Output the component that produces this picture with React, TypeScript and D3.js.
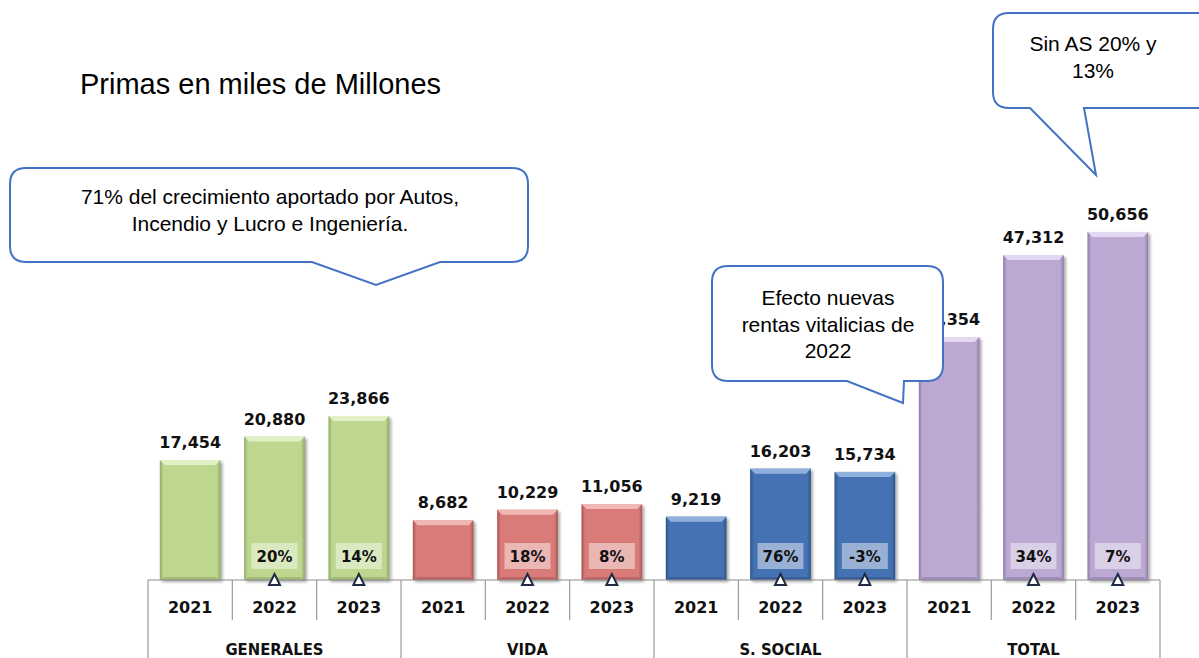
import React from "react";
import * as d3 from "d3";

const groups = ["GENERALES", "VIDA", "S. SOCIAL", "TOTAL"];
const years = ["2021", "2022", "2023"];
const generales = [17454, 20880, 23866];
const vida = [8682, 10229, 11056];
const social = [9219, 16203, 15734];
const total = [35354, 47312, 50656];
const growthGenerales = ["", "20%", "14%"];
const growthVida = ["", "18%", "8%"];
const growthSocial = ["", "76%", "-3%"];
const growthTotal = ["", "34%", "7%"];
const groupColors = ["#BDD78E", "#D97C79", "#4472B2", "#BBA8D3"];
const groupDark = ["#8FA965", "#A85552", "#2D5288", "#8E7BA8"];
const groupLight = ["#E2F0C6", "#F0B8B5", "#8FB0DD", "#E3D8F2"];

const title = "Primas en miles de Millones";
const callout1 = ["71% del crecimiento aportado por Autos,", "Incendio y Lucro e Ingeniería."];
const callout2 = ["Efecto nuevas", "rentas vitalicias de", "2022"];
const callout3 = ["Sin AS 20% y", "13%"];

const W = 1199;
const H = 658;

export default function App() {
  const series = [generales, vida, social, total];
  const growth = [growthGenerales, growthVida, growthSocial, growthTotal];
  const rows = groups.flatMap((g, gi) =>
    years.map((y, yi) => ({
      key: g + "|" + y,
      group: g,
      gi,
      year: y,
      value: series[gi][yi],
      growth: growth[gi][yi],
    }))
  );

  const x = d3
    .scaleBand<string>()
    .domain(rows.map((r) => r.key))
    .range([148, 1160])
    .paddingInner(0.28)
    .paddingOuter(0.14);
  const yScale = d3.scaleLinear().domain([0, 60000]).range([580, 167.8]);
  const base = yScale(0);
  const step = x.step();
  const bw = x.bandwidth();
  const groupX = (gi: number) => 148 + gi * 3 * step;

  const font = "'DejaVu Sans', Verdana, sans-serif";
  const fontC = "'DejaVu Sans Condensed', 'DejaVu Sans', sans-serif";
  const arial = "'Liberation Sans', Arial, sans-serif";
  const blue = "#4472C4";

  const roundedBoxPath = (
    x0: number,
    y0: number,
    x1: number,
    y1: number,
    r: number,
    tail: [number, number][]
  ) => {
    const p = d3.path();
    p.moveTo(x0 + r, y0);
    p.lineTo(x1 - r, y0);
    p.quadraticCurveTo(x1, y0, x1, y0 + r);
    p.lineTo(x1, y1 - r);
    p.quadraticCurveTo(x1, y1, x1 - r, y1);
    const [a, tip, b] = tail;
    p.lineTo(b[0], y1);
    p.lineTo(tip[0], tip[1]);
    p.lineTo(a[0], y1);
    p.lineTo(x0 + r, y1);
    p.quadraticCurveTo(x0, y1, x0, y1 - r);
    p.lineTo(x0, y0 + r);
    p.quadraticCurveTo(x0, y0, x0 + r, y0);
    p.closePath();
    return p.toString();
  };

  return (
    <svg width={W} height={H} style={{ display: "block", position: "absolute", left: 0, top: 0 }}>
      <defs>
        {groupColors.map((c, i) => (
          <linearGradient key={i} id={"g" + i} x1="0" x2="1" y1="0" y2="0">
            <stop offset="0" stopColor={groupDark[i]} />
            <stop offset="0.06" stopColor={c} />
            <stop offset="0.94" stopColor={c} />
            <stop offset="1" stopColor={groupDark[i]} />
          </linearGradient>
        ))}
        <filter id="shadow" x="-20%" y="-20%" width="150%" height="140%">
          <feGaussianBlur in="SourceAlpha" stdDeviation="1.5" />
          <feOffset dx="2" dy="2" result="b" />
          <feComponentTransfer>
            <feFuncA type="linear" slope="0.35" />
          </feComponentTransfer>
          <feMerge>
            <feMergeNode />
            <feMergeNode in="SourceGraphic" />
          </feMerge>
        </filter>
      </defs>
      <rect x={0} y={0} width={W} height={H} fill="#fff" />

      <text x={80} y={94} fontFamily={arial} fontSize={29} fill="#000">
        {title}
      </text>

      {rows.map((r) => {
        const bx = x(r.key)!;
        const top = yScale(r.value);
        const h = base - top;
        const bev = 5;
        return (
          <g key={r.key}>
            <g filter="url(#shadow)">
              <rect x={bx} y={top} width={bw} height={h} fill={`url(#g${r.gi})`} />
            </g>
            <path
              d={`M${bx},${top}L${bx + bw},${top}L${bx + bw - bev},${top + bev}L${bx + bev},${top + bev}Z`}
              fill={groupLight[r.gi]}
            />
            <path
              d={`M${bx},${base}L${bx + bw},${base}L${bx + bw - bev},${base - bev * 0.6}L${bx + bev},${base - bev * 0.6}Z`}
              fill={groupDark[r.gi]}
              opacity={0.6}
            />
            <text
              x={bx + bw / 2}
              y={top - 12}
              textAnchor="middle"
              fontFamily={font}
              fontWeight="bold"
              fontSize={16}
              fill="#111"
            >
              {d3.format(",")(r.value)}
            </text>
            {r.growth && (
              <g>
                <rect
                  x={bx + bw / 2 - 23}
                  y={543}
                  width={46}
                  height={26}
                  fill="#fff"
                  opacity={0.45}
                />
                <text
                  x={bx + bw / 2}
                  y={562}
                  textAnchor="middle"
                  fontFamily={font}
                  fontWeight="bold"
                  fontSize={15}
                  fill="#111"
                >
                  {r.growth}
                </text>
              </g>
            )}
          </g>
        );
      })}

      <line x1={148} x2={1160} y1={base} y2={base} stroke="#8c8c8c" strokeWidth={1.2} />
      {d3.range(0, 13).map((i) => {
        const xx = 148 + i * step;
        const isGroup = i % 3 === 0;
        return (
          <line
            key={i}
            x1={xx}
            x2={xx}
            y1={base}
            y2={isGroup ? H : 620}
            stroke="#9a9a9a"
            strokeWidth={1.2}
          />
        );
      })}
      {rows.map((r) => (
        <text
          key={"yl" + r.key}
          x={x(r.key)! + bw / 2}
          y={613}
          textAnchor="middle"
          fontFamily={font}
          fontWeight="bold"
          fontSize={16}
          fill="#111"
        >
          {r.year}
        </text>
      ))}
      {groups.map((g, gi) => (
        <text
          key={g}
          x={groupX(gi) + (3 * step) / 2}
          y={655}
          textAnchor="middle"
          fontFamily={fontC}
          fontWeight="bold"
          fontSize={16.5}
          fill="#111"
        >
          {g}
        </text>
      ))}

      {rows
        .filter((r) => r.growth)
        .map((r) => {
          const cx = x(r.key)! + bw / 2;
          return (
            <path
              key={"t" + r.key}
              d={`M${cx},574L${cx + 5.5},585L${cx - 5.5},585Z`}
              fill="#fff"
              stroke="#1F2A44"
              strokeWidth={2}
              strokeLinejoin="miter"
            />
          );
        })}

      <path
        d={roundedBoxPath(10, 168, 528, 262, 16, [[312, 262], [376, 285], [440, 262]])}
        fill="#fff"
        stroke={blue}
        strokeWidth={2}
      />
      {callout1.map((t, i) => (
        <text key={t} x={270} y={204 + i * 27} textAnchor="middle" fontFamily={arial} fontSize={21} fill="#000">
          {t}
        </text>
      ))}

      <path
        d={roundedBoxPath(712, 266, 943, 381, 16, [[847, 381], [903, 403], [904, 381]])}
        fill="#fff"
        stroke={blue}
        strokeWidth={2}
      />
      {callout2.map((t, i) => (
        <text key={t} x={828} y={305 + i * 26.5} textAnchor="middle" fontFamily={arial} fontSize={21} fill="#000">
          {t}
        </text>
      ))}

      <path
        d={roundedBoxPath(993, 13, 1215, 108, 16, [[1030, 108], [1096, 175], [1084, 108]])}
        fill="#fff"
        stroke={blue}
        strokeWidth={2}
      />
      {callout3.map((t, i) => (
        <text key={t} x={1093} y={51 + i * 26.5} textAnchor="middle" fontFamily={arial} fontSize={21} fill="#000">
          {t}
        </text>
      ))}
    </svg>
  );
}
